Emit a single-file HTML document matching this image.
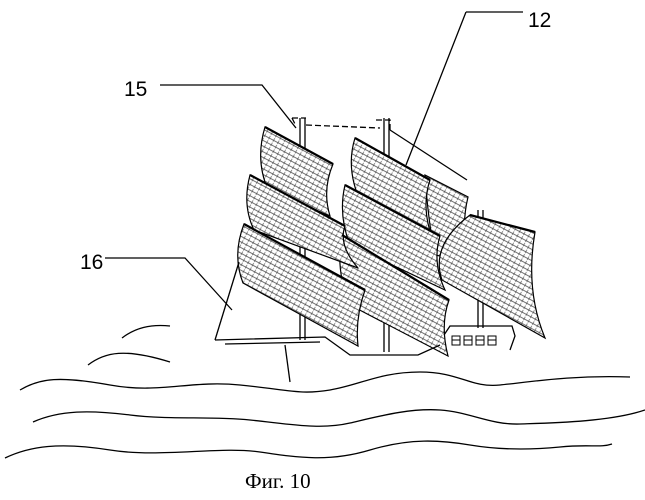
<!DOCTYPE html>
<html><head><meta charset="utf-8"><style>
html,body{margin:0;padding:0;background:#fff;}
svg{display:block;}
</style></head><body>
<svg width="645" height="500" viewBox="0 0 645 500" xmlns="http://www.w3.org/2000/svg">
<defs>
<pattern id="h" width="5" height="5" patternUnits="userSpaceOnUse" patternTransform="rotate(28)">
<rect width="5" height="5" fill="#fff"/>
<path d="M0 0.5H5" stroke="#333" stroke-width="0.7"/>
<path d="M2.5 0V5" stroke="#444" stroke-width="0.6" stroke-dasharray="2 1"/>
</pattern>
</defs>
<g fill="none" stroke="#000" stroke-width="1.3">
<path d="M300 118V340M305 118V340M384 118V352M389 118V352M478 210V328M483 210V328"/>
<path d="M292 118h14M292 118l4 8M376 120h14v10M306 125l74 3" stroke-dasharray="6 3"/>
<path d="M390 130L467 180"/>
</g>
<g stroke="#000" stroke-width="1.2" fill="url(#h)">
<path d="M425 175L468 197Q460 230 470 262L435 255Q428 220 425 175Z"/>
<path d="M470 215L535 232Q525 290 545 338L442 280Q430 245 470 215Z"/>
<path d="M355 138L430 180Q420 210 435 245L362 205Q345 170 355 138Z"/>
<path d="M345 185L440 236Q432 262 445 290L350 245Q338 215 345 185Z"/>
<path d="M342 235L449 300Q440 325 448 356L350 305Q335 270 342 235Z"/>
<path d="M265 127L333 164Q322 190 330 216L268 190Q255 160 265 127Z"/>
<path d="M250 175L345 226Q338 245 358 268L254 230Q242 205 250 175Z"/>
<path d="M244 224L365 290Q355 318 358 346L243 283Q232 255 244 224Z"/>
</g>
<g fill="none" stroke="#000" stroke-width="2.2">
<path d="M265 127L333 164M250 175L345 226M244 224L365 290M355 138L430 180M345 185L440 236M342 235L449 300M470 215L535 232"/>
</g>
<g fill="none" stroke="#000" stroke-width="1.3">
<path d="M215 340L325 337L350 355L418 355L440 345"/>
<path d="M225 344L320 342"/>
<path d="M444 335L450 326L512 326L515 336L510 350"/>
<path d="M285 345L290 382"/>
<path d="M239 262L215 340"/>
<path d="M160 85H262L296 128M466 12H523M466 12L406 165M105 258H185L232 310"/>
<path d="M20 390C40 378 60 376 110 385S190 380 240 385S300 395 330 390S380 372 420 372S470 388 500 385S570 375 630 377"/>
<path d="M33 422C60 410 90 410 130 415S210 416 250 420S320 430 350 423S410 408 440 410S490 425 520 424S610 422 645 410"/>
<path d="M5 458C30 446 60 442 110 450S220 446 260 452S330 462 370 450S440 440 470 445S530 450 560 447S600 448 612 444"/>
<path d="M122 338C135 328 150 324 170 326"/>
<path d="M88 365C105 352 125 348 170 362"/>
</g>
<g fill="none" stroke="#000" stroke-width="1">
<rect x="452" y="336" width="8" height="9"/><rect x="464" y="336" width="8" height="9"/><rect x="476" y="336" width="8" height="9"/><rect x="488" y="336" width="8" height="9"/>
<path d="M452 340h8M464 340h8M476 340h8M488 340h8"/>
</g>
<g font-family="Liberation Sans, sans-serif" font-size="21" fill="#000">
<text x="124" y="96">15</text>
<text x="528" y="27">12</text>
<text x="80" y="269">16</text>
</g>
<text x="245" y="488" font-family="Liberation Serif, serif" font-size="21" fill="#000">Фиг. 10</text>
</svg>
</body></html>
